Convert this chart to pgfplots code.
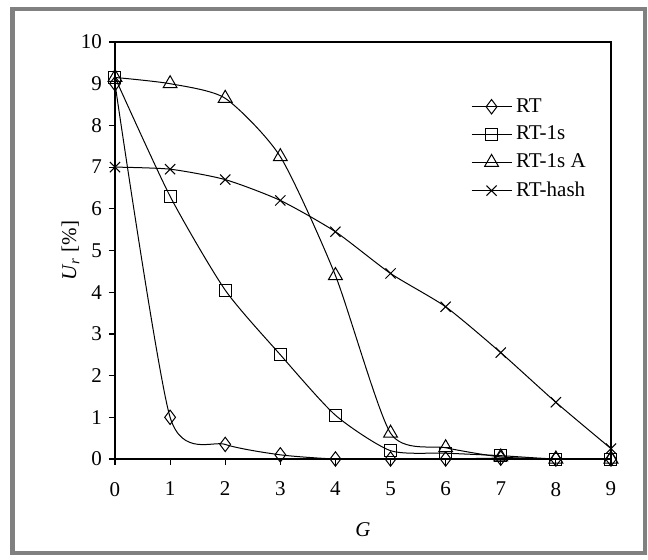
\documentclass[border=0pt]{standalone}
\usepackage{pgfplots}
\pgfplotsset{compat=1.18}
\usepackage{fontspec}
\setmainfont{Liberation Serif}
\definecolor{framegray}{RGB}{128,128,128}
\begin{document}
\begin{tikzpicture}
\path (0,0) rectangle (324pt,279.5pt);
\draw[framegray, line width=2.3pt] (6.25pt,3pt) rectangle (322.5pt,275pt);
\begin{axis}[
  at={(57.5pt,50pt)}, anchor=south west,
  scale only axis, width=248pt, height=208.5pt,
  xmin=0, xmax=9, ymin=0, ymax=10,
  xtick={0,...,9}, ytick={0,...,10},
  xtick pos=left, ytick pos=left, tick align=outside,
  major tick length=3pt,
  axis line style={line width=0.7pt},
  tick style={line width=0.6pt, black},
  /pgf/number format/assume math mode=true,
  tick label style={font=\fontsize{10.5}{12}\selectfont},
  xticklabel style={yshift=-5pt},
  xlabel={\textit{G}}, ylabel={\textit{U}\textsubscript{\textit{r}} [\%]},
  label style={font=\fontsize{10.5}{12}\selectfont},
  xlabel style={at={(axis description cs:0.5,-0.17)}, anchor=center},
  ylabel style={at={(axis description cs:-0.09,0.5)}, anchor=center},
  legend style={draw=none, fill=none, at={(axis description cs:0.705,0.885)},
    anchor=north west, font=\fontsize{10.5}{12}\selectfont, row sep=1.5pt,
    legend cell align=left},
  legend image code/.code={\draw[mark repeat=2, mark phase=2] plot coordinates {(0pt,0pt)(10pt,0pt)(20pt,0pt)};},
  every axis plot/.append style={black, line width=0.5pt, smooth, tension=0.4,
    mark options={solid, fill=none, line width=0.5pt}},
]
\addplot[mark=diamond, mark size=3.6pt] coordinates
 {(0,9.0)(1,1.0)(2,0.35)(3,0.1)(4,0)(5,0)(6,0)(7,0.02)(8,0)(9,0)};
\addplot[mark=square, mark size=3pt] coordinates
 {(0,9.15)(1,6.3)(2,4.05)(3,2.5)(4,1.05)(5,0.2)(6,0.14)(7,0.08)(8,0)(9,0)};
\addplot[mark=triangle, mark size=4pt] coordinates
 {(0,9.15)(1,9.0)(2,8.65)(3,7.25)(4,4.4)(5,0.62)(6,0.27)(7,0.05)(8,0)(9,0)};
\addplot[mark=x, mark size=3.6pt] coordinates
 {(0,7.0)(1,6.95)(2,6.7)(3,6.2)(4,5.45)(5,4.45)(6,3.65)(7,2.55)(8,1.36)(9,0.25)};
\legend{RT, RT-1s, RT-1s A, RT-hash}
\end{axis}
\end{tikzpicture}
\end{document}
